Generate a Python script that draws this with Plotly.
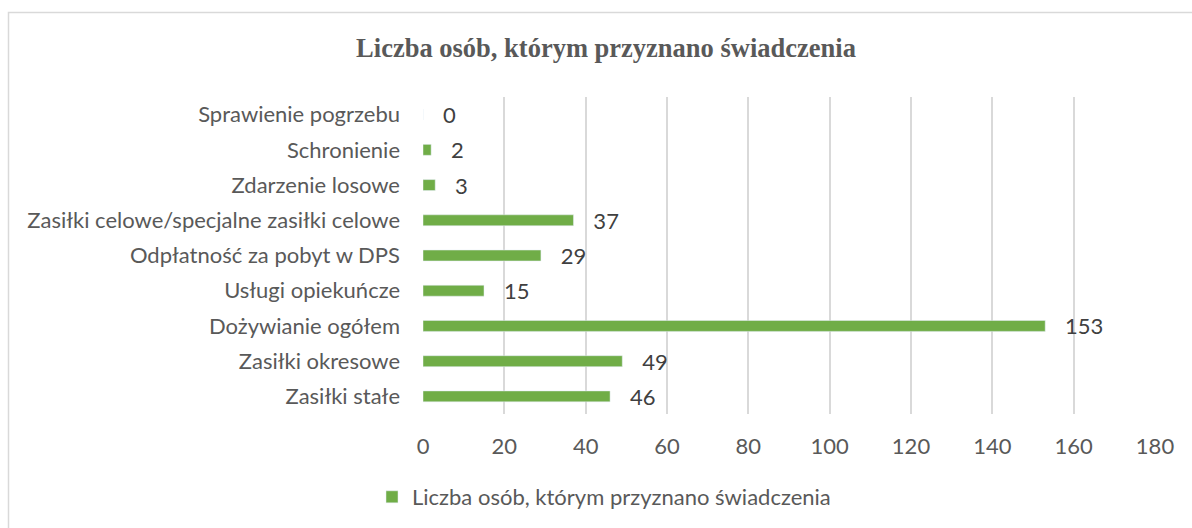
import plotly.graph_objects as go

categories = ["Zasiłki stałe", "Zasiłki okresowe", "Dożywianie ogółem", "Usługi opiekuńcze",
              "Odpłatność za pobyt w DPS", "Zasiłki celowe/specjalne zasiłki celowe",
              "Zdarzenie losowe", "Schronienie", "Sprawienie pogrzebu"]
values = [46, 49, 153, 15, 29, 37, 3, 2, 0]
series_name = "Liczba osób, którym przyznano świadczenia"
title_text = "Liczba osób, którym przyznano świadczenia"
x_ticks = [0, 20, 40, 60, 80, 100, 120, 140, 160, 180]

W, H = 1192, 528
ml, mr, mt, mb = 423, 37, 97, 114
pw, ph = W - ml - mr, H - mt - mb

FONT = "Lato"
FS = 22

fig = go.Figure()
fig.add_trace(go.Bar(
    y=categories, x=values, orientation="h", name=series_name,
    marker=dict(color="#70AD47"),
    texttemplate="   %{x}", textposition="outside",
    textfont=dict(family=FONT, size=FS, color="#404040"),
    constraintext="none",
    cliponaxis=False,
))

def px_x(p):
    return (p - ml) / pw

def px_y(p):
    return (H - mb - p) / ph

fig.update_layout(
    width=W, height=H,
    margin=dict(l=ml, r=mr, t=mt, b=mb, autoexpand=False),
    paper_bgcolor="white", plot_bgcolor="white",
    bargap=0.69,
    title=dict(text="<b>" + title_text + "</b>", x=(606 - ml) / pw, xref="paper", xanchor="center",
               y=1 - 48 / H, yanchor="middle",
               font=dict(family="Liberation Serif", size=26.5, color="#595959")),
    xaxis=dict(range=[0, 180], tickvals=x_ticks, showgrid=True, gridcolor="#D9D9D9", gridwidth=1.5,
               zeroline=False, showline=False, ticks="",
               tickfont=dict(family=FONT, size=FS, color="#595959"), ticklabelstandoff=17),
    yaxis=dict(showgrid=False, zeroline=False, showline=False, ticks="",
               tickfont=dict(family=FONT, size=FS, color="#595959"), ticklabelstandoff=22,
               categoryorder="array", categoryarray=categories),
    showlegend=True,
    legend=dict(orientation="h", x=(604 - ml) / pw, xanchor="center", xref="paper",
                y=px_y(497), yanchor="middle",
                font=dict(family=FONT, size=FS, color="#595959"),
                itemwidth=30),
    shapes=[dict(type="rect", xref="paper", yref="paper",
                 x0=px_x(8.5), x1=px_x(1250), y0=px_y(12.5), y1=px_y(600),
                 line=dict(color="#D9D9D9", width=1.5), fillcolor="rgba(0,0,0,0)", layer="below")],
)

fig.write_html("out.html", config={"displayModeBar": False},
               post_script="document.body.style.margin='0';document.body.style.overflow='hidden';")
